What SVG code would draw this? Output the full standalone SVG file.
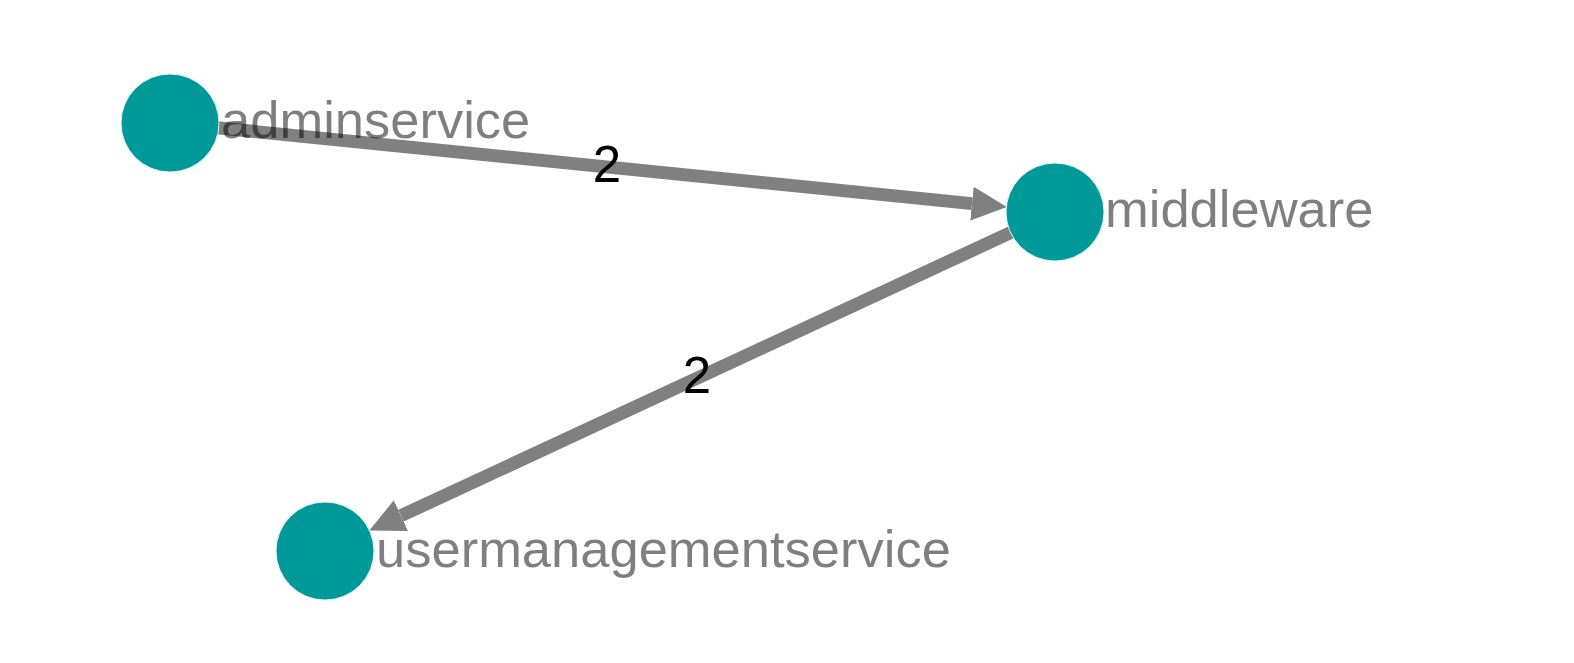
<svg xmlns="http://www.w3.org/2000/svg" width="1574" height="663" viewBox="0 0 1574 663">
<style>
.edge{stroke:#808080;stroke-width:13;fill:none}
.node{fill:#009999;stroke:#e6f4f4;stroke-width:1}
.nlabel{font-family:"Liberation Sans",Arial,sans-serif;font-size:52.5px;fill:#000;fill-opacity:0.5}
.elabel{font-family:"Liberation Sans",Arial,sans-serif;font-size:51px;fill:#000;text-anchor:middle}
</style>
<defs>
<marker id="arrow" markerUnits="userSpaceOnUse" markerWidth="40" markerHeight="40" viewBox="0 -20 40 40" refX="0" refY="0" orient="auto">
<path d="M0,-17 L35,0 L0,17 z" fill="#808080"/>
</marker>
</defs>
<rect width="1574" height="663" fill="#fff"/>
<g id="connectors">
<line class="edge" x1="170" y1="123" x2="972" y2="203.6" marker-end="url(#arrow)"/>
<line class="edge" x1="1055" y1="212" x2="401" y2="515.7" marker-end="url(#arrow)"/>
</g>
<g id="node-adminservice">
<circle class="node" cx="170" cy="123" r="49"/>
</g>
<g id="node-middleware">
<circle class="node" cx="1055" cy="212" r="49"/>
</g>
<g id="node-usermanagementservice">
<circle class="node" cx="325" cy="551" r="49"/>
</g>
<g id="labels">
<text class="nlabel" x="221" y="138">adminservice</text>
<text class="nlabel" x="1105" y="227">middleware</text>
<text class="nlabel" x="376" y="567">usermanagementservice</text>
<text class="elabel" x="607" y="182">2</text>
<text class="elabel" x="697" y="393">2</text>
</g>
</svg>
